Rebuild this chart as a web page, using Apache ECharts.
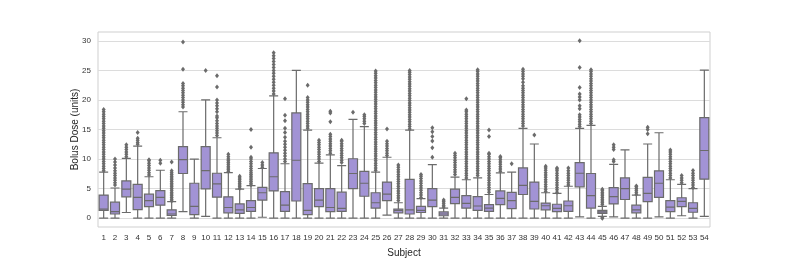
<!DOCTYPE html>
<html>
<head>
<meta charset="utf-8">
<script src="https://cdn.jsdelivr.net/npm/echarts@6/dist/echarts.min.js"></script>
<style>
html,body{margin:0;padding:0;background:#fff;}
#chart{width:789px;height:263px;}
</style>
</head>
<body>
<div id="chart"></div>
<script>
var subjects = [];
for (var s = 1; s <= 54; s++) subjects.push(String(s));

// [lower whisker, Q1, median, Q3, upper whisker]
var boxStats = [
  [0, 1.3, 1.55, 3.9, 7.8],
  [0, 0.7, 1.1, 2.7, 5.1],
  [0.95, 3.6, 4.9, 6.3, 10.1],
  [0, 1.45, 3.5, 5.7, 12.2],
  [0, 1.95, 2.95, 4.05, 7.0],
  [0, 2.2, 3.5, 4.65, 8.1],
  [0, 0.45, 0.7, 1.4, 2.8],
  [1.1, 7.55, 9.9, 12.1, 18.0],
  [0, 0.6, 2.0, 5.9, 10.0],
  [0.3, 4.95, 8.05, 12.1, 20.0],
  [0, 3.55, 5.8, 7.6, 13.6],
  [0, 0.9, 1.8, 3.6, 7.7],
  [0, 0.8, 1.4, 2.4, 4.9],
  [0, 1.15, 1.8, 2.95, 5.5],
  [0.15, 3.05, 4.3, 5.2, 8.4],
  [0, 4.6, 7.0, 11.05, 20.7],
  [0, 1.15, 2.2, 4.5, 9.2],
  [0, 2.9, 9.8, 17.8, 25.0],
  [0, 0.6, 1.3, 5.85, 14.9],
  [0, 1.95, 3.05, 5.0, 9.3],
  [0, 1.1, 1.8, 5.0, 10.7],
  [0, 1.15, 1.65, 4.4, 8.9],
  [0, 5.0, 7.55, 10.05, 16.7],
  [0, 3.7, 5.9, 7.9, 15.5],
  [0, 1.7, 2.6, 4.3, 7.8],
  [0.5, 2.95, 4.05, 6.1, 10.3],
  [0, 0.9, 1.3, 1.55, 2.6],
  [0, 0.7, 1.4, 6.55, 14.9],
  [0, 0.95, 1.3, 2.0, 3.3],
  [0, 1.95, 3.05, 5.0, 9.05],
  [0, 0.4, 0.7, 1.05, 1.7],
  [0, 2.45, 3.5, 4.9, 6.95],
  [0, 1.7, 2.5, 3.8, 6.5],
  [0, 1.3, 2.05, 3.65, 6.8],
  [0, 1.15, 1.7, 2.3, 4.0],
  [0, 2.3, 3.35, 4.6, 7.65],
  [0, 1.6, 2.95, 4.35, 7.8],
  [0, 4.0, 5.55, 8.5, 15.2],
  [0, 1.55, 2.85, 6.1, 12.55],
  [0, 1.4, 2.1, 2.55, 4.3],
  [0, 1.1, 1.65, 2.35, 4.2],
  [0, 1.15, 2.1, 2.9, 5.4],
  [0.2, 5.3, 7.6, 9.4, 15.2],
  [0, 1.7, 3.8, 7.55, 15.7],
  [0.3, 0.8, 1.05, 1.3, 2.0],
  [0.2, 2.4, 3.65, 5.15, 9.1],
  [0, 3.15, 5.0, 6.8, 11.55],
  [0, 0.9, 1.4, 2.2, 3.9],
  [0, 2.8, 4.2, 6.9, 12.55],
  [0.2, 3.5, 5.9, 8.0, 14.45],
  [0, 1.1, 1.85, 2.95, 6.5],
  [0.4, 1.95, 2.85, 3.45, 5.7],
  [0, 1.0, 1.65, 2.6, 5.0],
  [0.3, 6.6, 11.45, 17.0, 25.05]
];

var outliers = [
  [8.0,8.4,8.8,9.2,9.6,10.0,10.4,10.8,11.2,11.6,12.0,12.4,12.8,13.2,13.6,14.0,14.4,14.8,15.2,15.6,16.0,16.4,16.8,17.2,17.6,18.0,18.4],
  [5.6,6.0,6.4,6.8,7.2,7.6,8.0,8.5,9.0,9.5,10.0],
  [10.4,10.8,11.2,11.6,12.0,12.4],
  [12.5,12.8,13.2,13.5,14.5],
  [7.3,7.7,8.1,8.5,8.9,9.3,9.7,9.9],
  [9.3,9.8],
  [2.9,3.2,3.5,3.8,4.1,4.4,4.7,5.0,5.3,5.6,5.9,6.2,6.5,6.8,7.1,7.4,7.7,8.0,9.5],
  [18.8,19.2,19.6,20.0,20.4,20.8,21.2,21.6,22.0,22.4,22.8,25.2,29.8],
  [],
  [25.0],
  [14.0,14.4,14.8,15.2,15.6,16.0,16.5,17.0,17.3,18.0,18.5,19.0,19.5,20.0,22.2,24.1],
  [7.9,8.2,8.5,8.8,9.1,9.4,9.7,10.0,10.4,10.8],
  [5.0,5.3,5.6,5.9,6.2,6.5,6.8,7.1],
  [5.6,5.9,6.2,6.5,6.8,7.1,7.4,7.7,8.0,8.4,8.8,9.2,9.6,10.0,10.3,12.0,15.0],
  [8.6,9.0,9.4],
  [21.0,21.5,22.0,22.5,23.0,23.5,24.0,24.5,25.0,25.5,26.0,26.5,27.0,27.5,28.0],
  [9.6,10.0,10.5,11.0,11.5,12.0,12.5,13.0,13.7,14.5,15.2,16.5,17.4,20.2],
  [],
  [15.2,15.6,16.0,16.4,16.8,17.2,17.6,18.0,18.4,18.8,19.2,19.6,20.0,20.4,22.5],
  [9.6,10.0,10.4,10.8,11.2,11.6,12.0,12.4,12.8,13.2],
  [11.0,11.4,11.8,12.2,12.6,13.0,13.4,13.8,14.2,16.3,17.8,18.1],
  [9.4,9.8,10.2,10.6,11.0,11.4,11.8,12.2,12.6,13.0,13.2],
  [17.9],
  [16.0,16.4,16.8,17.2,17.5],
  [8.1,8.5,8.9,9.3,9.7,10.1,10.5,10.9,11.3,11.7,12.1,12.5,12.9,13.3,13.7,14.1,14.5,14.9,15.3,15.7,16.1,16.5,16.9,17.3,17.7,18.1,18.5,18.9,19.3,19.7,20.1,20.5,20.9,21.3,21.7,22.1,22.5,22.9,23.3,23.7,24.1,24.5,24.9],
  [10.6,11.0,11.4,11.8,12.2,12.6,13.0,15.1],
  [3.0,3.4,3.8,4.2,4.6,5.0,5.4,5.8,6.2,6.6,7.0,7.4,7.8,8.2,8.6,9.0],
  [15.1,15.5,15.9,16.3,16.7,17.1,17.5,17.9,18.3,18.7,19.1,19.5,19.9,20.3,20.7,21.1,21.5,21.9,22.3,22.7,23.1,23.5,23.9,24.3,24.7,25.0],
  [3.5,3.9,4.3,4.7,5.1,5.5,5.9,6.3,6.7,7.1,7.4],
  [10.3,11.9,13.05,13.8,14.6,15.3],
  [1.9,2.2,2.5,2.8,3.05],
  [7.4,7.8,8.2,8.6,9.0,9.4,9.8,10.2,10.6,11.0],
  [6.8,7.2,7.6,8.0,8.4,8.8,9.2,9.6,10.0,10.4,10.8,11.2,11.6,12.0,12.4,12.8,13.2,13.6,14.0,14.4,14.8,15.2,15.6,16.0,16.4,16.8,17.2,17.6,18.0,18.3,20.2],
  [7.2,7.6,8.0,8.4,8.8,9.2,9.6,10.0,10.4,10.8,11.2,11.6,12.0,12.4,12.8,13.2,13.6,14.0,14.4,14.8,15.2,15.6,16.0,16.4,16.8,17.2,17.6,18.0,18.4,18.8,19.2,19.6,20.0,20.4,20.8,21.2,21.6,22.0,22.4,22.8,23.2,23.6,24.0,24.4,24.8,25.1],
  [4.4,4.8,5.2,5.6,6.0,6.4,6.8,7.2,7.6,8.0,8.4,8.8,9.2,9.6,10.0,10.4,10.8,11.0,13.8,14.9],
  [7.95,8.3,8.7,9.1,9.5,9.9,10.2,10.45],
  [9.2],
  [15.6,16.0,16.4,16.8,17.2,17.6,18.0,18.4,18.8,19.2,19.6,20.0,20.4,20.8,21.2,21.6,22.0,22.4,23.0,23.6,24.0,24.4,24.8,25.2],
  [14.05],
  [4.5,4.9,5.3,5.7,6.1,6.5,6.9,7.3,7.7,8.1,8.5,8.8],
  [4.4,4.8,5.2,5.6,6.0,6.4,6.8,7.2,7.6,8.0,8.3,8.5],
  [5.6,6.0,6.4,6.8,7.2,7.6,8.0,8.5],
  [15.5,15.9,16.3,16.7,17.1,17.5,18.5,19.0,20.0,20.5,21.0,22.1,25.5,30.0],
  [16.0,16.4,16.8,17.2,17.6,18.0,18.4,18.8,19.2,19.6,20.0,20.4,20.8,21.2,21.6,22.0,22.4,22.8,23.2,23.6,24.0,24.4,24.8,25.1],
  [0.0,0.05,2.3,2.6,2.9,3.2,3.5,3.8,4.1,4.4,4.7,4.9],
  [9.6,9.9,11.6,12.0,12.4],
  [],
  [4.05,4.4,4.7,5.0,5.3,5.45],
  [14.3,15.0,15.4],
  [],
  [6.8,7.2,7.6,8.0,8.4,8.8,9.2,9.6,10.0,10.4,10.8,11.2,11.55],
  [6.0,6.4,6.8,7.2],
  [5.2,5.6,6.0,6.4,6.8,7.2,7.6,8.05],
  []
];

var yTicks = [0, 5, 10, 15, 20, 25, 30];

var scatterData = [];
outliers.forEach(function (arr, i) {
  arr.forEach(function (v) { scatterData.push([i, v]); });
});

var lineGray = '#6b6b6b';
var chart = echarts.init(document.getElementById('chart'));
chart.setOption({
  animation: false,
  backgroundColor: '#ffffff',
  textStyle: { fontFamily: 'Liberation Sans, Arial, sans-serif' },
  grid: {
    left: 98, right: 79, top: 32, bottom: 33,
    show: true, borderColor: '#cfcfcf', borderWidth: 1, backgroundColor: '#ffffff'
  },
  xAxis: {
    type: 'category',
    data: subjects,
    boundaryGap: true,
    name: 'Subject',
    nameLocation: 'middle',
    nameGap: 21,
    nameMoveOverlap: false,
    nameTextStyle: { fontSize: 10, color: '#262626' },
    axisLine: { show: false },
    axisTick: { show: false },
    axisLabel: { interval: 0, fontSize: 8, color: '#333333', margin: 7 },
    splitLine: { show: false }
  },
  yAxis: {
    type: 'value',
    min: -1.5,
    max: 31.5,
    name: 'Bolus Dose (units)',
    nameLocation: 'middle',
    nameGap: 18,
    nameMoveOverlap: false,
    nameTextStyle: { fontSize: 10, color: '#262626' },
    axisLine: { show: false },
    axisTick: { show: false, customValues: yTicks },
    axisLabel: { fontSize: 8, color: '#333333', margin: 7, customValues: yTicks },
    splitLine: { show: true, lineStyle: { color: '#dcdcdc', width: 1 } }
  },
  series: [
    {
      type: 'boxplot',
      data: boxStats,
      boxWidth: [9, 9],
      itemStyle: { color: '#a293d5', borderColor: lineGray, borderWidth: 1.2 },
      emphasis: { disabled: true }
    },
    {
      type: 'scatter',
      data: scatterData,
      symbol: 'diamond',
      symbolSize: [4, 5],
      itemStyle: { color: lineGray, opacity: 1 },
      emphasis: { disabled: true },
      z: 3
    }
  ]
});
</script>
</body>
</html>
